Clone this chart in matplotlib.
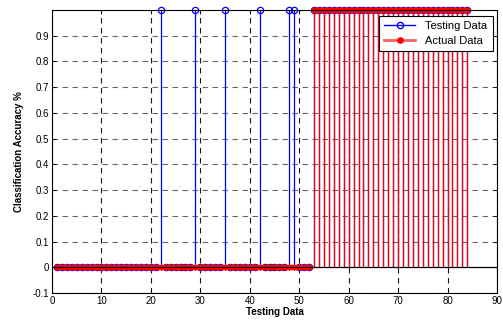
import numpy as np
import matplotlib
matplotlib.use('Agg')
import matplotlib.pyplot as plt
from matplotlib.lines import Line2D

plt.rcParams['font.family'] = ['Liberation Sans', 'DejaVu Sans']

# sample index and classification results
sample_idx = list(range(1, 85))
testing_hits = [22, 29, 35, 42, 48, 49] + list(range(53, 85))
actual_hits = list(range(53, 85))

testing_data = [1 if i in testing_hits else 0 for i in sample_idx]
actual_data = [1 if i in actual_hits else 0 for i in sample_idx]

xticks = list(range(0, 91, 10))
yticks = [round(v, 1) for v in np.arange(-0.1, 0.95, 0.1)]
ytick_labels = ['-0.1', '0', '0.1', '0.2', '0.3', '0.4', '0.5', '0.6', '0.7', '0.8', '0.9']

fig = plt.figure(figsize=(5.03, 3.24), dpi=100)
ax = fig.add_axes([0.1034, 0.0957, 0.8846, 0.8733])

# stem plots (blue first, red over it)
m1, s1, b1 = ax.stem(sample_idx, testing_data, linefmt='b-', markerfmt='bo', basefmt='k-')
m1.set_markerfacecolor('none')
m1.set_markersize(4.5)
m1.set_markeredgewidth(0.9)
m1.set_clip_on(False)
s1.set_linewidth(0.9)

m2, s2, b2 = ax.stem(sample_idx, actual_data, linefmt='r-', markerfmt='r*', basefmt='k-')
m2.set_marker((8, 2, 0))
m2.set_markersize(5)
m2.set_markeredgewidth(0.9)
m2.set_clip_on(False)
s2.set_linewidth(0.9)

for b in (b1, b2):
    b.set_xdata([0, 90])
    b.set_linewidth(0.8)
    b.set_color('black')

ax.set_xlim(0, 90)
ax.set_ylim(-0.1, 1)
ax.set_xticks(xticks)
ax.set_yticks(yticks)
ax.set_yticklabels(ytick_labels)
ax.tick_params(direction='in', length=3, width=0.6, labelsize=7, top=True, right=True, pad=2)

ax.xaxis.grid(True, linestyle=(0, (5, 4)), color='0.1', linewidth=0.8)
ax.yaxis.grid(True, linestyle=(0, (5, 4)), color='0.4', linewidth=0.8)
ax.set_axisbelow(True)

for sp in ax.spines.values():
    sp.set_linewidth(0.8)

ax.set_xlabel('Testing Data', fontsize=7, fontweight='bold', labelpad=1)
ax.set_ylabel('Classification Accuracy %', fontsize=7, fontweight='bold', labelpad=6)

# legend
h1 = Line2D([], [], color='b', marker='o', markerfacecolor='none', markersize=4.5, linewidth=1)
h2 = Line2D([], [], color='#ff6060', marker=(8, 2, 0), markeredgecolor='r', markersize=5, linewidth=2)
leg = ax.legend([h1, h2], ['Testing Data', 'Actual Data'], loc='upper right',
                bbox_to_anchor=(0.99, 0.978), fontsize=8, fancybox=False, framealpha=1,
                edgecolor='black', borderpad=0.45, labelspacing=0.45, handlelength=2.8,
                handletextpad=0.9, borderaxespad=0)
leg.get_frame().set_linewidth(0.8)
leg.set_zorder(5)

fig.savefig('out.png', dpi=100)
